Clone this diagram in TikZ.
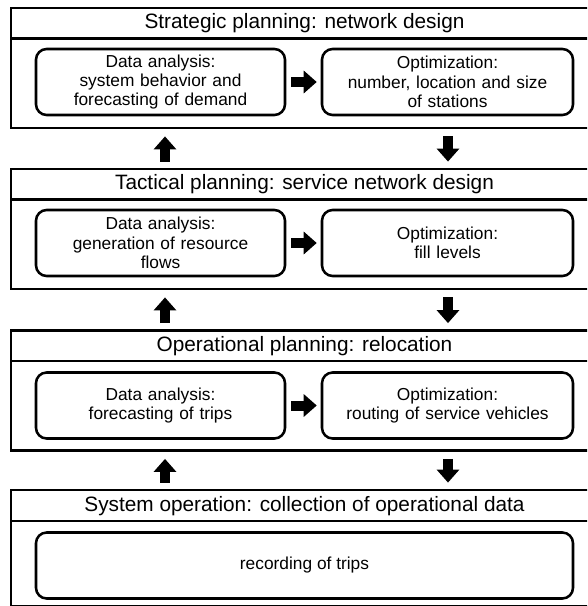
\documentclass[tikz,border=0pt]{standalone}
\usepackage{fontspec}
\setmainfont{Liberation Sans}
\usetikzlibrary{arrows.meta}
\begin{document}
\begin{tikzpicture}[x=0.75pt,y=-0.75pt,
  stage/.style={draw, line width=2.1pt, rectangle, inner sep=0pt, minimum width=440.25pt, minimum height=90pt},
  sep/.style={line width=2.1pt},
  title/.style={font=\fontsize{15.6}{18}\selectfont, inner sep=0pt},
  task/.style={draw, line width=1.9pt, rounded corners=8pt, inner sep=0pt, minimum height=49.5pt, align=center, font=\fontsize{13}{14.6}\selectfont},
  taskL/.style={task, minimum width=186.75pt, text width=180pt},
  taskR/.style={task, minimum width=188.25pt, text width=180pt},
  blockarrow/.style={line width=7.5pt, -{Triangle[length=9.75pt,width=16.5pt]}},
]
\useasboundingbox (0,0) rectangle (587,606);
\clip (0,0) rectangle (587,606);
\coordinate (xu) at (165,0);
\coordinate (xd) at (448,0);

% Stage 1
\node[stage] (s1) at (304.5,68) {};
\draw[sep] (11,38.5) -- (598,38.5);
\node[title] (t1) at (304.5,23.5) {Strategic planning: network design};
\node[taskL] (a1) at (160.5,82) {Data analysis:\\system behavior and\\forecasting of demand};
\node[taskR] (o1) at (447.5,82) {Optimization:\\number, location and size\\of stations};

% Stage 2
\node[stage] (s2) at (304.5,229) {};
\draw[sep] (11,199.5) -- (598,199.5);
\node[title] (t2) at (304.5,184.5) {Tactical planning: service network design};
\node[taskL] (a2) at (160.5,243) {Data analysis:\\generation of resource\\flows};
\node[taskR] (o2) at (447.5,243) {Optimization:\\fill levels};

% Stage 3
\node[stage] (s3) at (304.5,390.5) {};
\draw[sep] (11,361) -- (598,361);
\node[title] (t3) at (304.5,346) {Operational planning: relocation};
\node[taskL] (a3) at (160.5,405.5) {Data analysis:\\forecasting of trips};
\node[taskR] (o3) at (447.5,405.5) {Optimization:\\routing of service vehicles};

% Stage 4
\node[stage, minimum height=87pt] (s4) at (304.5,548) {};
\draw[sep] (11,521) -- (598,521);
\node[title] (t4) at (304.5,506) {System operation: collection of operational data};
\node[task, minimum width=402.75pt] (r4) at (304.5,565.5) {recording of trips};

% horizontal arrows
\foreach \i in {1,2,3} {
  \draw[blockarrow, shorten <=3.75pt, shorten >=3pt] (a\i.east) -- (o\i.west);
}
% vertical arrows
\draw[blockarrow, shorten <=4.5pt, shorten >=5.25pt] (s2.north -| xu) -- (s1.south -| xu);
\draw[blockarrow, shorten <=5.25pt, shorten >=4.5pt] (s1.south -| xd) -- (s2.north -| xd);
\draw[blockarrow, shorten <=4.5pt, shorten >=5.25pt] (s3.north -| xu) -- (s2.south -| xu);
\draw[blockarrow, shorten <=5.25pt, shorten >=4.5pt] (s2.south -| xd) -- (s3.north -| xd);
\draw[blockarrow, shorten <=4.5pt, shorten >=5.25pt] (s4.north -| xu) -- (s3.south -| xu);
\draw[blockarrow, shorten <=5.25pt, shorten >=4.5pt] (s3.south -| xd) -- (s4.north -| xd);
\end{tikzpicture}
\end{document}
